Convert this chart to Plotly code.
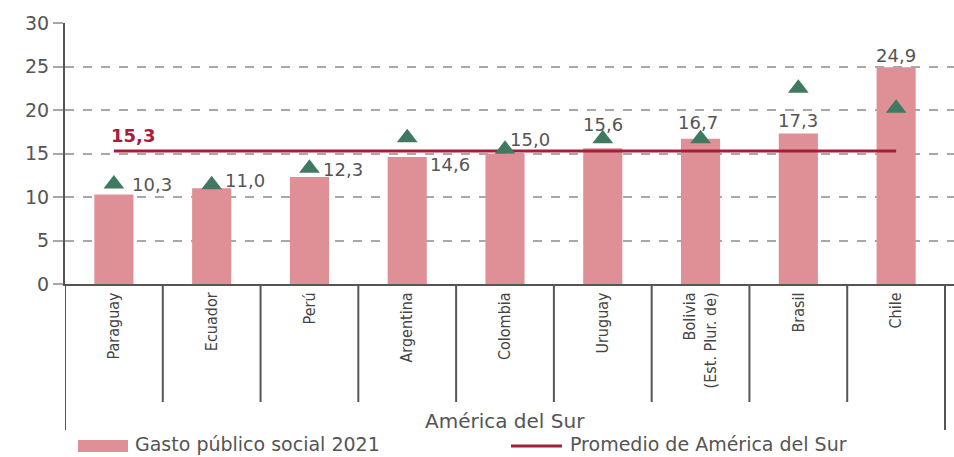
import plotly.graph_objects as go

# ---- data ----
countries = ["Paraguay", "Ecuador", "Perú", "Argentina", "Colombia", "Uruguay",
             "Bolivia<br>(Est. Plur. de)", "Brasil", "Chile"]
gasto_2021 = [10.3, 11.0, 12.3, 14.6, 15.0, 15.6, 16.7, 17.3, 24.9]
triangles = [11.5, 11.4, 13.3, 16.8, 15.5, 16.7, 16.7, 22.5, 20.2]
promedio = 15.3
group_label = "América del Sur"
y_ticks = [0, 5, 10, 15, 20, 25, 30]

# ---- styles ----
W, H = 954, 457
L, R, T, B = 65, 0, 23, 173
BAR = "#de9096"
TRI = "#3f7a60"
AVG = "#a3203b"
TXT = "#555555"
GRID = "#a8a8a8"
AXIS = "#555555"
NUMFONT = "DejaVu Sans"
CONDENSED = "DejaVu Sans Condensed"

# label placement per bar: (xanchor, xshift, yshift)
label_place = [("left", 16, 10), ("left", 11, 8), ("left", 12, 7), ("left", 21, -8),
               ("left", 3, 14), ("center", 0, 24), ("center", -3, 16),
               ("center", 0, 13), ("center", 0, 12)]

plot_w = W - L - R
plot_h = H - T - B
cat_px = 880 / 9
xr = [-0.5, -0.5 + plot_w / cat_px]


def px_x(p):
    return (p - L) / plot_w


def px_y(p):
    return (H - B - p) / plot_h


idx = list(range(len(countries)))

fig = go.Figure()
fig.add_trace(go.Bar(x=idx, y=gasto_2021, marker=dict(color=BAR, line=dict(width=0)),
                     width=0.4, name="Gasto público social 2021", showlegend=False))
fig.add_trace(go.Scatter(x=[idx[0], idx[-1]], y=[promedio, promedio], mode="lines",
                         line=dict(color=AVG, width=3), name="Promedio de América del Sur",
                         showlegend=False))
fig.add_trace(go.Scatter(x=idx, y=triangles, mode="markers",
                         marker=dict(symbol="triangle-up", size=18, color=TRI),
                         showlegend=False, name="Referencia"))

ann = []
for i, v in enumerate(gasto_2021):
    xa, xs, ys = label_place[i]
    ann.append(dict(x=i, y=v, xref="x", yref="y", text=f"{v:.1f}".replace(".", ","),
                    showarrow=False, xanchor=xa, yanchor="middle", xshift=xs, yshift=ys,
                    font=dict(family=NUMFONT, size=18, color=TXT)))

ann.append(dict(x=0, y=promedio, xref="x", yref="y", text=f"<b>{promedio:.1f}</b>".replace(".", ","),
                showarrow=False, xanchor="left", yanchor="middle", xshift=-5, yshift=15,
                font=dict(family=NUMFONT, size=18, color=AVG)))

ann.append(dict(x=(len(countries) - 1) / 2, y=px_y(421), xref="x", yref="paper", text=group_label,
                showarrow=False, xanchor="center", yanchor="middle",
                font=dict(family=NUMFONT, size=20, color=TXT)))

# legend (manual)
ann.append(dict(x=px_x(133), y=px_y(444), xref="paper", yref="paper", text="Gasto público social 2021",
                showarrow=False, xanchor="left", yanchor="middle",
                font=dict(family=NUMFONT, size=19, color=TXT)))
ann.append(dict(x=px_x(568), y=px_y(444), xref="paper", yref="paper", text="Promedio de América del Sur",
                showarrow=False, xanchor="left", yanchor="middle",
                font=dict(family=NUMFONT, size=19, color=TXT)))

shapes = []
for k in range(len(countries) + 1):
    outer = k == 0 or k == len(countries)
    shapes.append(dict(type="line", xref="x", yref="paper", x0=k - 0.5, x1=k - 0.5,
                       y0=0, y1=px_y(430 if outer else 402),
                       line=dict(color=AXIS, width=2)))
shapes.append(dict(type="rect", xref="paper", yref="paper", x0=px_x(78), x1=px_x(128),
                   y0=px_y(440), y1=px_y(452), fillcolor=BAR, line=dict(width=0)))
shapes.append(dict(type="line", xref="paper", yref="paper", x0=px_x(511), x1=px_x(562),
                   y0=px_y(446), y1=px_y(446), line=dict(color=AVG, width=3)))

fig.update_layout(
    width=W, height=H, margin=dict(l=L, r=R, t=T, b=B, autoexpand=False),
    plot_bgcolor="white", paper_bgcolor="white",
    bargap=0.6, annotations=ann, shapes=shapes, showlegend=False,
    xaxis=dict(range=xr, tickmode="array", tickvals=idx, ticktext=countries,
               tickangle=-90, showgrid=False, zeroline=False, showline=True,
               linecolor=AXIS, linewidth=2, ticks="", automargin=False,
               tickfont=dict(family=CONDENSED, size=16, color="#444444")),
    yaxis=dict(range=[0, 30], tickvals=y_ticks, showgrid=True, gridcolor=GRID,
               griddash="dash", gridwidth=1.5, zeroline=False, showline=True,
               linecolor=AXIS, linewidth=2, ticks="outside", ticklen=10,
               tickcolor=GRID, tickwidth=1.5, automargin=False,
               tickfont=dict(family=NUMFONT, size=19, color=TXT)),
)

fig.write_html("out.html", config={"displayModeBar": False},
               post_script="document.body.style.margin='0';document.body.style.overflow='hidden';")
